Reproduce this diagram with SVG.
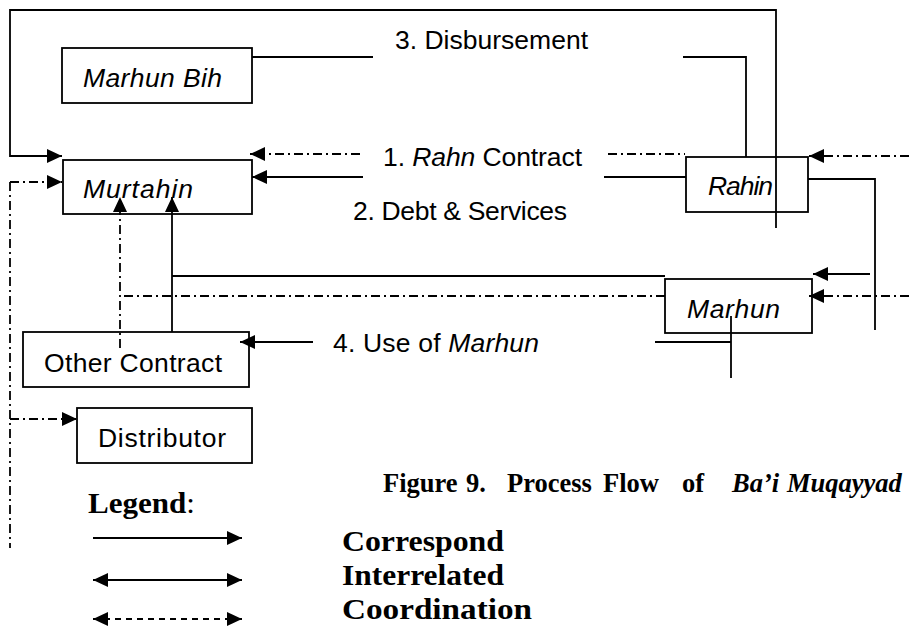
<svg xmlns="http://www.w3.org/2000/svg" width="909" height="630" viewBox="0 0 909 630">
<defs>
<style>
.box{fill:#fff;stroke:#000;stroke-width:1.8}
.lbl{font-family:"Liberation Sans",Arial,sans-serif;font-size:26.5px;fill:#000}
.it{font-style:italic}
.ln{fill:none;stroke:#000;stroke-width:1.8}
.dd{fill:none;stroke:#000;stroke-width:1.8;stroke-dasharray:9 4 2 4}
.dsh{fill:none;stroke:#000;stroke-width:1.8;stroke-dasharray:6 5}
.ser{font-family:"Liberation Serif","Times New Roman",serif;font-weight:bold;fill:#000}
</style>
<marker id="ah" viewBox="0 0 15 14" refX="15" refY="7" markerWidth="15" markerHeight="14" markerUnits="userSpaceOnUse" orient="auto-start-reverse">
<path d="M0,0 L15,7 L0,14 Z" fill="#000"/>
</marker>
</defs>

<g id="node-marhun-bih">
<rect class="box" x="62" y="48" width="190" height="55"/>
<text class="lbl it" x="83" y="87" textLength="139" lengthAdjust="spacing">Marhun Bih</text>
</g>
<g id="node-murtahin">
<rect class="box" x="63" y="160" width="189" height="54"/>
<text class="lbl it" x="83" y="198" textLength="110" lengthAdjust="spacing">Murtahin</text>
</g>
<g id="node-rahin">
<rect class="box" x="686" y="157" width="122" height="55"/>
<text class="lbl it" x="708" y="195" textLength="65" lengthAdjust="spacing">Rahin</text>
</g>
<g id="node-marhun">
<rect class="box" x="665" y="279" width="147" height="54"/>
<text class="lbl it" x="687" y="318" textLength="93" lengthAdjust="spacing">Marhun</text>
</g>
<g id="node-other-contract">
<rect class="box" x="23" y="332" width="226" height="55"/>
<text class="lbl" x="44" y="372" textLength="178" lengthAdjust="spacing">Other Contract</text>
</g>
<g id="node-distributor">
<rect class="box" x="77" y="408" width="175" height="55"/>
<text class="lbl" x="98" y="447" textLength="128" lengthAdjust="spacing">Distributor</text>
</g>

<g id="connectors">
<polyline class="ln" points="776,228 776,10 10,10 10,156 62,156" marker-end="url(#ah)"/>
<polyline class="ln" points="252,57 373,57"/>
<polyline class="ln" points="683,57 746,57 746,157"/>
<line class="ln" x1="363" y1="177" x2="252" y2="177" marker-end="url(#ah)"/>
<line class="ln" x1="604" y1="177" x2="686" y2="177"/>
<polyline class="ln" points="808,179 875,179 875,330"/>
<line class="ln" x1="870" y1="274" x2="813" y2="274" marker-end="url(#ah)"/>
<line class="ln" x1="665" y1="276" x2="172" y2="276"/>
<line class="ln" x1="172" y1="332" x2="172" y2="197" marker-end="url(#ah)"/>
<line class="ln" x1="313" y1="342" x2="240" y2="342" marker-end="url(#ah)"/>
<polyline class="ln" points="655,342 731,342"/>
<line class="ln" x1="731" y1="316" x2="731" y2="378"/>
<line class="dd" x1="10" y1="182" x2="10" y2="548"/>
<line class="dd" x1="10" y1="182" x2="62" y2="182" marker-end="url(#ah)"/>
<line class="dd" x1="10" y1="419" x2="77" y2="419" marker-end="url(#ah)"/>
<line class="dd" x1="360" y1="154" x2="250" y2="154" marker-end="url(#ah)"/>
<line class="dd" x1="608" y1="154" x2="685" y2="154"/>
<line class="dd" x1="909" y1="156" x2="809" y2="156" marker-end="url(#ah)"/>
<line class="dd" x1="909" y1="296" x2="809" y2="296" marker-end="url(#ah)"/>
<line class="dd" x1="665" y1="296" x2="120" y2="296"/>
<line class="dd" x1="120" y1="348" x2="120" y2="197" marker-end="url(#ah)"/>
</g>

<g id="flow-labels">
<text class="lbl" x="395" y="49" textLength="193" lengthAdjust="spacing">3. Disbursement</text>
<text class="lbl" x="383" y="166" textLength="199" lengthAdjust="spacing">1. <tspan class="it">Rahn</tspan> Contract</text>
<text class="lbl" x="353" y="220" textLength="214" lengthAdjust="spacing">2. Debt &amp; Services</text>
<text class="lbl" x="333" y="352" textLength="206" lengthAdjust="spacing">4. Use of <tspan class="it">Marhun</tspan></text>
</g>

<g id="caption">
<text class="ser" y="492" font-size="26.5"><tspan x="383">Figure</tspan><tspan x="466">9.</tspan><tspan x="507">Process</tspan><tspan x="603">Flow</tspan><tspan x="682">of</tspan><tspan x="732" font-style="italic">Ba’i</tspan><tspan x="787" font-style="italic">Muqayyad</tspan></text>
</g>

<g id="legend">
<text class="ser" x="88" y="513" font-size="30" textLength="107" lengthAdjust="spacingAndGlyphs">Legend<tspan font-weight="normal">:</tspan></text>
<line class="ln" x1="93" y1="538" x2="242" y2="538" marker-end="url(#ah)"/>
<line class="ln" x1="93" y1="580" x2="242" y2="580" marker-start="url(#ah)" marker-end="url(#ah)"/>
<line class="dsh" x1="93" y1="619" x2="242" y2="619" marker-start="url(#ah)" marker-end="url(#ah)"/>
<text class="ser" x="342" y="551" font-size="30" textLength="162" lengthAdjust="spacingAndGlyphs">Correspond</text>
<text class="ser" x="342" y="585" font-size="30" textLength="162" lengthAdjust="spacingAndGlyphs">Interrelated</text>
<text class="ser" x="342" y="619" font-size="30" textLength="190" lengthAdjust="spacingAndGlyphs">Coordination</text>
</g>
</svg>
